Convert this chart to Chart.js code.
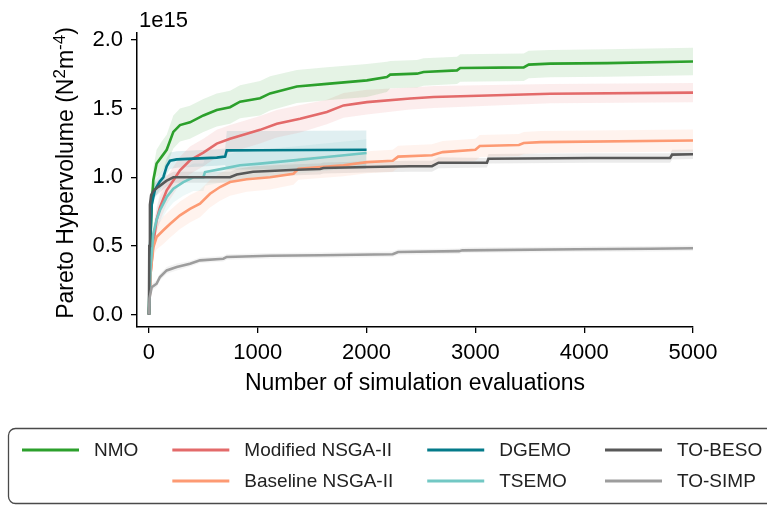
<!DOCTYPE html>
<html>
<head>
<meta charset="utf-8">
<script src="https://cdn.jsdelivr.net/npm/chart.js@4.4.1/dist/chart.umd.min.js"></script>
<style>
  html, body { margin: 0; padding: 0; background: #fff; }
  #wrap { width: 767px; height: 506px; }
</style>
</head>
<body>
<div id="wrap"><canvas id="hvChart" width="767" height="506"></canvas></div>
<script>
"use strict";

// AXIS TICKS
const xTicks = [0, 1000, 2000, 3000, 4000, 5000];
const yTicks = [0.0, 0.5, 1.0, 1.5, 2.0];

// SERIES DATA (hypervolume in units of 1e15, mean and spread per evaluation count)
const nmoX = [0, 10, 25, 40, 70, 117, 163, 224, 285, 377, 500, 623, 745, 837, 1021, 1113, 1359, 1635, 2003, 2187, 2217, 2463, 2524, 2831, 2861, 3444, 3490, 3689, 4211, 5000];
const nmoMean = [0, 0.45, 0.8, 0.98, 1.1, 1.15, 1.2, 1.33, 1.38, 1.4, 1.45, 1.49, 1.51, 1.55, 1.575, 1.61, 1.66, 1.68, 1.705, 1.73, 1.747, 1.754, 1.766, 1.778, 1.795, 1.8, 1.82, 1.827, 1.831, 1.843];
const nmoSd = [0, 0.04, 0.07, 0.09, 0.1, 0.11, 0.11, 0.12, 0.12, 0.12, 0.12, 0.12, 0.12, 0.12, 0.125, 0.125, 0.12, 0.12, 0.12, 0.11, 0.1, 0.1, 0.1, 0.1, 0.1, 0.1, 0.1, 0.1, 0.1, 0.1];

const modX = [0, 15, 40, 70, 101, 163, 224, 285, 377, 500, 623, 745, 899, 1021, 1175, 1389, 1635, 1788, 2003, 2401, 2616, 3689, 5000];
const modMean = [0, 0.3, 0.52, 0.69, 0.78, 0.905, 0.977, 1.05, 1.124, 1.18, 1.245, 1.28, 1.317, 1.345, 1.39, 1.426, 1.475, 1.523, 1.547, 1.573, 1.584, 1.608, 1.616];
const modSd = [0, 0.04, 0.07, 0.09, 0.1, 0.1, 0.1, 0.1, 0.1, 0.1, 0.1, 0.1, 0.1, 0.1, 0.1, 0.1, 0.09, 0.09, 0.09, 0.08, 0.08, 0.07, 0.07];

const baseX = [0, 15, 40, 70, 132, 193, 285, 377, 469, 561, 653, 745, 899, 1113, 1328, 1374, 1788, 2003, 2240, 2290, 2600, 2700, 3000, 3040, 3400, 3444, 3600, 5000];
const baseMean = [0, 0.3, 0.49, 0.565, 0.614, 0.66, 0.723, 0.77, 0.808, 0.88, 0.929, 0.965, 0.985, 1.0, 1.026, 1.062, 1.087, 1.11, 1.12, 1.15, 1.16, 1.183, 1.2, 1.227, 1.235, 1.249, 1.256, 1.268];
const baseSd = [0, 0.04, 0.07, 0.09, 0.1, 0.1, 0.1, 0.1, 0.1, 0.1, 0.1, 0.1, 0.09, 0.09, 0.08, 0.08, 0.08, 0.08, 0.08, 0.08, 0.08, 0.08, 0.08, 0.08, 0.08, 0.08, 0.08, 0.08];

const dgemoX = [0, 10, 25, 55, 101, 132, 163, 193, 255, 623, 700, 715, 1000, 2000];
const dgemoMean = [0, 0.5, 0.8, 0.91, 0.97, 1.0, 1.08, 1.12, 1.13, 1.143, 1.15, 1.196, 1.197, 1.2];
const dgemoSd = [0, 0.03, 0.05, 0.06, 0.06, 0.06, 0.06, 0.06, 0.06, 0.06, 0.06, 0.14, 0.14, 0.14];

const tsemoX = [0, 15, 40, 70, 101, 163, 224, 316, 408, 500, 515, 684, 837, 1021, 1328, 1635, 2000];
const tsemoMean = [0, 0.35, 0.59, 0.69, 0.76, 0.856, 0.917, 0.965, 1.0, 1.0, 1.038, 1.063, 1.087, 1.099, 1.123, 1.147, 1.176];
const tsemoSd = [0, 0.04, 0.07, 0.08, 0.09, 0.1, 0.1, 0.1, 0.1, 0.1, 0.1, 0.1, 0.1, 0.1, 0.1, 0.1, 0.1];

const besoX = [0, 3, 9, 20, 40, 86, 163, 224, 745, 807, 957, 1359, 1573, 1604, 2003, 2401, 2601, 2661, 3106, 3120, 4057, 4790, 4808, 5000];
const besoMean = [0, 0.5, 0.8, 0.87, 0.9, 0.93, 0.975, 1.0, 1.0, 1.02, 1.04, 1.055, 1.06, 1.067, 1.075, 1.08, 1.08, 1.106, 1.106, 1.135, 1.14, 1.14, 1.165, 1.167];
const besoSd = [0, 0.05, 0.06, 0.05, 0.05, 0.05, 0.04, 0.04, 0.04, 0.04, 0.04, 0.04, 0.04, 0.04, 0.04, 0.04, 0.04, 0.04, 0.035, 0.035, 0.035, 0.035, 0.035, 0.035];

const simpX = [0, 5, 25, 70, 101, 163, 255, 377, 469, 684, 715, 1113, 1573, 2240, 2290, 2850, 2880, 3935, 4609, 5000];
const simpMean = [0, 0.12, 0.2, 0.225, 0.274, 0.322, 0.347, 0.371, 0.395, 0.407, 0.42, 0.429, 0.432, 0.44, 0.456, 0.462, 0.468, 0.476, 0.48, 0.483];
const simpSd = [0, 0.02, 0.025, 0.025, 0.025, 0.025, 0.025, 0.02, 0.02, 0.02, 0.02, 0.02, 0.02, 0.02, 0.02, 0.02, 0.02, 0.02, 0.02, 0.02];

// series order = legend order (column by column)
const series = [
  { label: "NMO", x: nmoX, mean: nmoMean, sd: nmoSd, color: "#2ca02c", col: 0, row: 0 },
  { label: "Modified NSGA-II", x: modX, mean: modMean, sd: modSd, color: "#e36a6a", col: 1, row: 0 },
  { label: "Baseline NSGA-II", x: baseX, mean: baseMean, sd: baseSd, color: "#fd9a73", col: 1, row: 1 },
  { label: "DGEMO", x: dgemoX, mean: dgemoMean, sd: dgemoSd, color: "#047b8a", col: 2, row: 0 },
  { label: "TSEMO", x: tsemoX, mean: tsemoMean, sd: tsemoSd, color: "#72c8c4", col: 2, row: 1 },
  { label: "TO-BESO", x: besoX, mean: besoMean, sd: besoSd, color: "#585858", col: 3, row: 0 },
  { label: "TO-SIMP", x: simpX, mean: simpMean, sd: simpSd, color: "#9d9d9d", col: 3, row: 1 },
];

const FONT = "'Liberation Sans', Arial, Helvetica, sans-serif";
const AXIS_SIZE = 22;
const TITLE_SIZE = 23;
const LEGEND_SIZE = 19;

const withAlpha = (hex, a) => {
  const n = parseInt(hex.slice(1), 16);
  return `rgba(${(n >> 16) & 255}, ${(n >> 8) & 255}, ${n & 255}, ${a})`;
};
const toPoints = (xs, ys) => xs.map((x, i) => ({ x: x, y: ys[i] }));

// BUILD DATASETS: shaded spread first, mean lines on top
const datasets = [];
series.forEach((s) => {
  datasets.push({
    label: s.label + " upper",
    data: toPoints(s.x, s.mean.map((m, j) => m + s.sd[j])),
    borderColor: "rgba(0,0,0,0)",
    borderWidth: 0,
    backgroundColor: withAlpha(s.color, 0.12),
    pointRadius: 0,
    fill: "+1",
    order: 20,
  });
  datasets.push({
    label: s.label + " lower",
    data: toPoints(s.x, s.mean.map((m, j) => Math.max(0, m - s.sd[j]))),
    borderColor: "rgba(0,0,0,0)",
    borderWidth: 0,
    pointRadius: 0,
    fill: false,
    order: 20,
  });
});
series.forEach((s, i) => {
  datasets.push({
    label: s.label,
    data: toPoints(s.x, s.mean),
    borderColor: s.color,
    borderWidth: 2.6,
    pointRadius: 0,
    tension: 0,
    fill: false,
    order: series.length - i,
  });
});

// TEXT + LEGEND PLUGIN
const annotations = {
  id: "annotations",
  afterDraw(chart) {
    const { ctx, chartArea } = chart;
    ctx.save();
    ctx.fillStyle = "#000";

    // offset label above y axis
    ctx.font = `${AXIS_SIZE}px ${FONT}`;
    ctx.textAlign = "left";
    ctx.textBaseline = "alphabetic";
    ctx.fillText("1e15", chartArea.left + 2, 27);

    // x axis title
    ctx.font = `${TITLE_SIZE}px ${FONT}`;
    ctx.textAlign = "center";
    ctx.fillText("Number of simulation evaluations", (chartArea.left + chartArea.right) / 2, 390);

    // y axis title, with superscripts
    const parts = [
      ["Pareto Hypervolume (N", false],
      ["2", true],
      ["m", false],
      ["-4", true],
      [")", false],
    ];
    const supSize = Math.round(TITLE_SIZE * 0.72);
    let total = 0;
    parts.forEach(([t, sup]) => {
      ctx.font = `${sup ? supSize : TITLE_SIZE}px ${FONT}`;
      total += ctx.measureText(t).width;
    });
    ctx.translate(73, 173);
    ctx.rotate(-Math.PI / 2);
    ctx.textAlign = "left";
    let px = -total / 2;
    parts.forEach(([t, sup]) => {
      ctx.font = `${sup ? supSize : TITLE_SIZE}px ${FONT}`;
      ctx.fillText(t, px, sup ? -8 : 0);
      px += ctx.measureText(t).width;
    });
    ctx.setTransform(1, 0, 0, 1, 0, 0);

    // legend frame
    ctx.beginPath();
    ctx.roundRect(8.5, 428.5, 800, 75, 7);
    ctx.fillStyle = "#fff";
    ctx.fill();
    ctx.strokeStyle = "#4a4a4a";
    ctx.lineWidth = 1.3;
    ctx.stroke();

    // legend entries, laid out in columns
    ctx.font = `${LEGEND_SIZE}px ${FONT}`;
    ctx.textBaseline = "middle";
    const handleLen = 57, handlePad = 15, colGap = 34;
    const rowY = [450, 481];
    let colX = 22;
    for (let c = 0; c < 4; c++) {
      const items = series.filter((s) => s.col === c);
      let widest = 0;
      items.forEach((s) => {
        const y = rowY[s.row];
        ctx.strokeStyle = s.color;
        ctx.lineWidth = 3;
        ctx.beginPath();
        ctx.moveTo(colX, y);
        ctx.lineTo(colX + handleLen, y);
        ctx.stroke();
        ctx.fillStyle = "#222";
        ctx.fillText(s.label, colX + handleLen + handlePad, y + 1);
        widest = Math.max(widest, ctx.measureText(s.label).width);
      });
      colX += handleLen + handlePad + widest + colGap;
    }
    ctx.restore();
  },
};

const axisGrid = {
  display: true,
  drawOnChartArea: false,
  drawTicks: true,
  tickLength: 6,
  color: "#000",
  lineWidth: 1.3,
};
const axisBorder = { display: true, color: "#000", width: 1.5 };

const ctx = document.getElementById("hvChart");
const chart = new Chart(ctx, {
  type: "line",
  data: { datasets: datasets },
  options: {
    responsive: false,
    animation: false,
    events: [],
    layout: { padding: { left: 0, top: 33, right: 74, bottom: 119 } },
    plugins: {
      legend: { display: false },
      tooltip: { enabled: false },
    },
    scales: {
      x: {
        type: "linear",
        min: -110,
        max: 5000,
        afterBuildTicks: (scale) => {
          scale.ticks = xTicks.map((v) => ({ value: v }));
        },
        afterFit: (scale) => {
          scale.height = 60;
        },
        ticks: {
          autoSkip: false,
          maxRotation: 0,
          padding: 7,
          color: "#000",
          font: { family: FONT, size: AXIS_SIZE },
          callback: (v) => String(v),
        },
        grid: axisGrid,
        border: axisBorder,
      },
      y: {
        type: "linear",
        min: -0.09,
        max: 2.05,
        afterBuildTicks: (scale) => {
          scale.ticks = yTicks.map((v) => ({ value: v }));
        },
        afterFit: (scale) => {
          scale.width = 137;
        },
        ticks: {
          autoSkip: false,
          padding: 8,
          color: "#000",
          font: { family: FONT, size: AXIS_SIZE },
          callback: (v) => v.toFixed(1),
        },
        grid: axisGrid,
        border: axisBorder,
      },
    },
  },
  plugins: [annotations],
});
</script>
</body>
</html>
